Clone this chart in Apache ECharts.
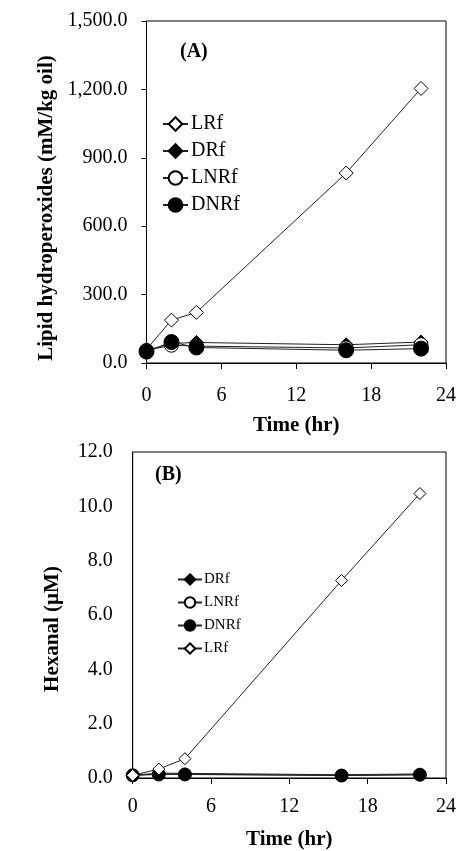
<!DOCTYPE html>
<html>
<head>
<meta charset="utf-8">
<script src="https://cdn.jsdelivr.net/npm/echarts@6/dist/echarts.min.js"></script>
<style>
  html, body { margin: 0; padding: 0; background: #fff; }
  #chart { width: 459px; height: 851px; }
</style>
</head>
<body>
<div id="chart"></div>
<script>
// sampling times (hr)
const hours = [0, 2, 4, 16, 22];

// (A) lipid hydroperoxides, mM/kg oil
const hydroLRf = [60, 188, 222, 833, 1204];
const hydroDRf = [55, 86, 90, 80, 92];
const hydroLNRf = [55, 78, 74, 66, 80];
const hydroDNRf = [50, 92, 68, 56, 63];

// (B) hexanal, µM
const hexDRf = [0.1, 0.18, 0.17, 0.12, 0.15];
const hexLNRf = [0.1, 0.15, 0.14, 0.1, 0.12];
const hexDNRf = [0.1, 0.13, 0.13, 0.09, 0.12];
const hexLRf = [0.1, 0.33, 0.71, 7.27, 10.47];

const legendA = ['LRf', 'DRf', 'LNRf', 'DNRf'];
const legendB = ['DRf', 'LNRf', 'DNRf', 'LRf'];

const FONT = 'Liberation Serif';
const INK = '#000';

const markers = {
  LRf: { symbol: 'diamond', fill: '#fff' },
  DRf: { symbol: 'diamond', fill: '#000' },
  LNRf: { symbol: 'circle', fill: '#fff' },
  DNRf: { symbol: 'circle', fill: '#000' }
};

function pairs(ys) {
  return hours.map((h, i) => [h, ys[i]]);
}

function lineSeries(name, ys, axisIndex, size) {
  const m = markers[name];
  return {
    type: 'line',
    name,
    xAxisIndex: axisIndex,
    yAxisIndex: axisIndex,
    data: pairs(ys),
    symbol: m.symbol,
    symbolSize: size,
    showAllSymbol: true,
    lineStyle: { color: '#222', width: 1 },
    itemStyle: { color: m.fill, borderColor: INK, borderWidth: 1 },
    emphasis: { disabled: true },
    animation: false
  };
}

function timeAxis(gridIndex, margin, nameGap) {
  return {
    type: 'value',
    gridIndex,
    min: 0,
    max: 24,
    interval: 6,
    name: 'Time (hr)',
    nameLocation: 'middle',
    nameGap,
    nameTextStyle: { fontFamily: FONT, fontSize: 21, fontWeight: 'bold', color: INK },
    axisLine: { onZero: false, lineStyle: { color: INK, width: 1 } },
    axisTick: { show: true, length: 6, lineStyle: { color: INK } },
    axisLabel: { fontFamily: FONT, fontSize: 20, color: INK, margin },
    splitLine: { show: false }
  };
}

const chart = echarts.init(document.getElementById('chart'));

chart.setOption({
  animation: false,
  backgroundColor: '#fff',
  textStyle: { fontFamily: FONT, color: INK },
  title: [
    { text: '(A)', left: 180, top: 42, padding: 0,
      textStyle: { fontFamily: FONT, fontSize: 20, fontWeight: 'bold', color: INK } },
    { text: '(B)', left: 155, top: 465, padding: 0,
      textStyle: { fontFamily: FONT, fontSize: 20, fontWeight: 'bold', color: INK } }
  ],
  legend: [
    {
      data: legendA,
      orient: 'vertical',
      left: 162,
      top: 114,
      padding: 0,
      itemGap: 7,
      itemWidth: 25,
      itemHeight: 17,
      selectedMode: false,
      textStyle: { fontFamily: FONT, fontSize: 20, color: INK, padding: [0, 0, 0, -2] }
    },
    {
      data: legendB,
      orient: 'vertical',
      left: 177,
      top: 572,
      padding: 0,
      itemGap: 8,
      itemWidth: 24,
      itemHeight: 13,
      selectedMode: false,
      textStyle: { fontFamily: FONT, fontSize: 15, color: INK, padding: [0, 0, 0, -3] }
    }
  ],
  grid: [
    { left: 146.5, right: 11, top: 21, height: 342, show: true, borderColor: INK, borderWidth: 1 },
    { left: 132.7, right: 8, top: 452, height: 332, show: true, borderColor: INK, borderWidth: 1 }
  ],
  xAxis: [timeAxis(0, 23, 52), timeAxis(1, 19, 51)],
  yAxis: [
    {
      type: 'value',
      gridIndex: 0,
      min: 0,
      max: 1500,
      interval: 300,
      name: 'Lipid hydroperoxides (mM/kg oil)',
      nameLocation: 'middle',
      nameGap: 88,
      nameTextStyle: { fontFamily: FONT, fontSize: 21, fontWeight: 'bold', color: INK, padding: [0, 32, 0, 0] },
      axisLine: { show: true, lineStyle: { color: INK, width: 1 } },
      axisTick: { show: true, length: 5, lineStyle: { color: INK } },
      axisLabel: {
        fontFamily: FONT, fontSize: 20, color: INK, margin: 19,
        formatter: (v) => v.toLocaleString('en-US', { minimumFractionDigits: 1, maximumFractionDigits: 1 })
      },
      splitLine: { show: false }
    },
    {
      type: 'value',
      gridIndex: 1,
      min: 0,
      max: 12,
      interval: 2,
      name: 'Hexanal (µM)',
      nameLocation: 'middle',
      nameGap: 70,
      nameTextStyle: { fontFamily: FONT, fontSize: 21, fontWeight: 'bold', color: INK, padding: [0, 28, 0, 0] },
      axisLine: { show: true, lineStyle: { color: INK, width: 1 } },
      axisTick: { show: false },
      axisLabel: {
        fontFamily: FONT, fontSize: 20, color: INK, margin: 20,
        formatter: (v) => v.toFixed(1)
      },
      splitLine: { show: false }
    }
  ],
  series: [
    lineSeries('LRf', hydroLRf, 0, 14),
    lineSeries('DRf', hydroDRf, 0, 14),
    lineSeries('LNRf', hydroLNRf, 0, 14),
    lineSeries('DNRf', hydroDNRf, 0, 15),
    lineSeries('DRf', hexDRf, 1, 11),
    lineSeries('LNRf', hexLNRf, 1, 11),
    lineSeries('DNRf', hexDNRf, 1, 13),
    lineSeries('LRf', hexLRf, 1, 12)
  ]
});
</script>
</body>
</html>
